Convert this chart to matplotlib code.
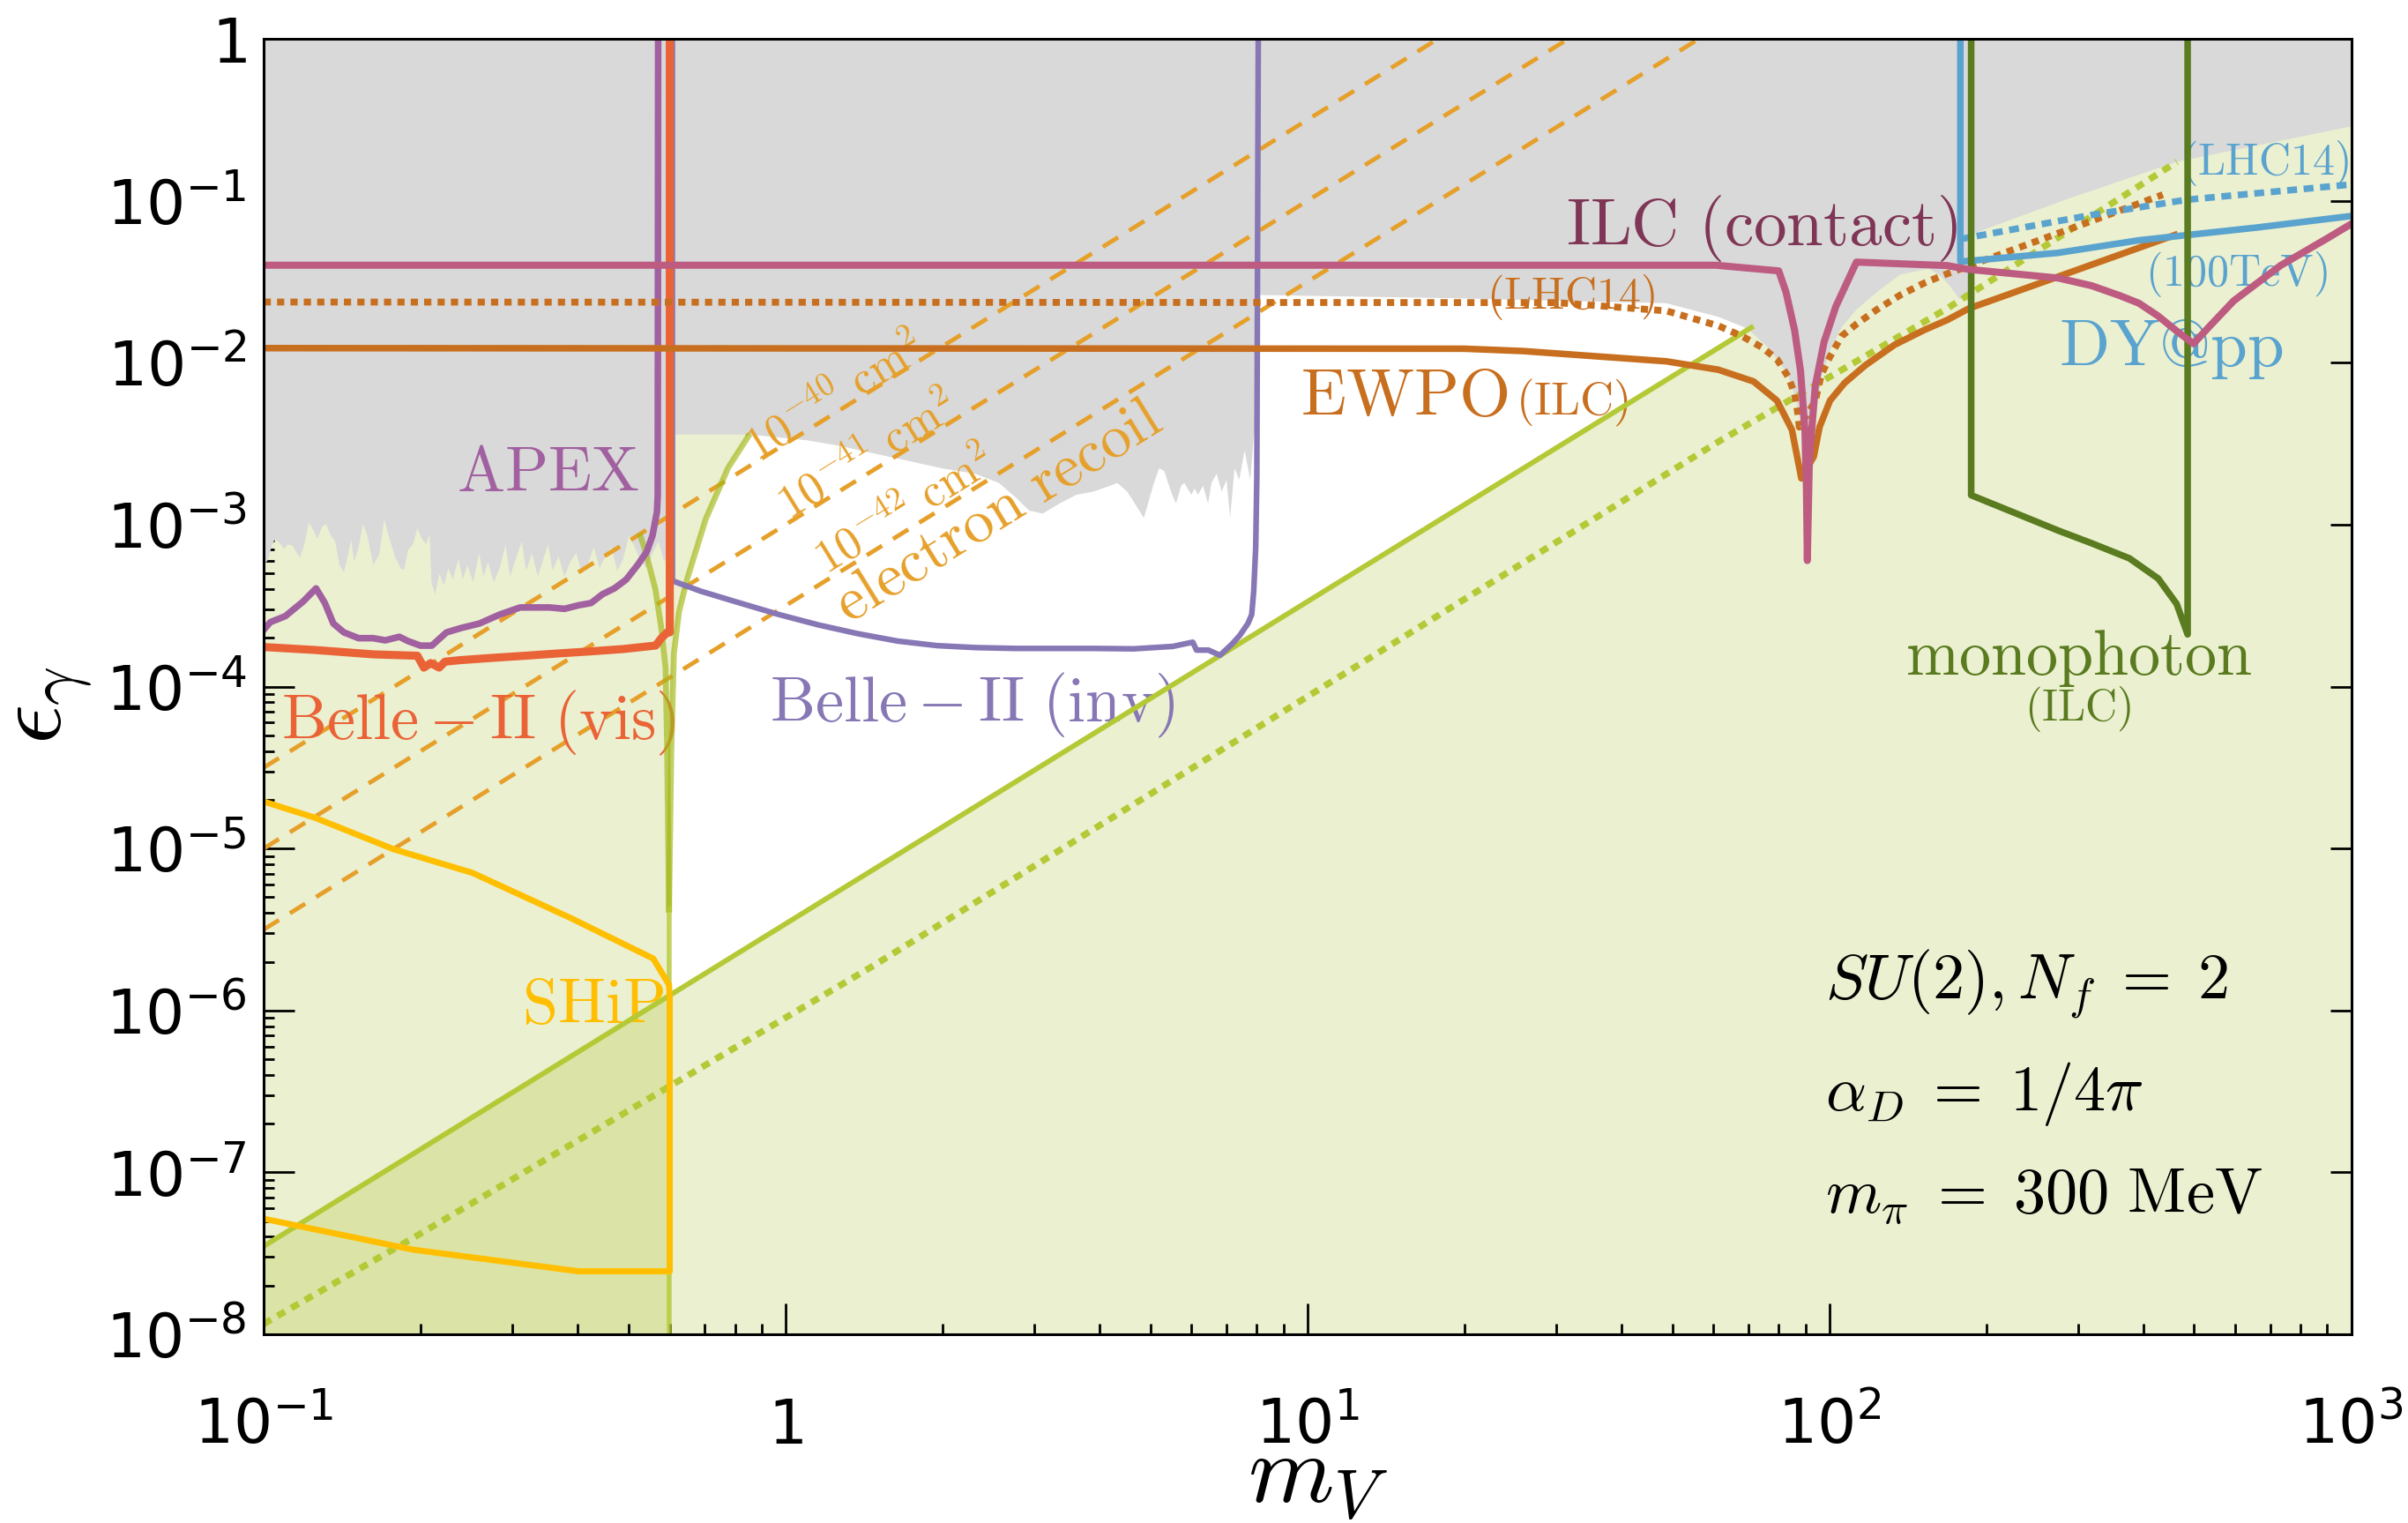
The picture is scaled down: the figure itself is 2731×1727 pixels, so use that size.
import numpy as np
import matplotlib.pyplot as plt
from matplotlib.ticker import LogLocator, NullFormatter

plt.rcParams['mathtext.fontset'] = 'dejavusans'

# ---------------- data: m_V [GeV] vs epsilon_gamma ----------------

# lower edge of the already-excluded (grey) region, split in three mass ranges
lowmass_edge_x = [0.1, 0.1017, 0.1037, 0.1051, 0.1072, 0.1093, 0.1114, 0.1136, 0.1158, 0.1173,
                  0.1197, 0.122, 0.1244, 0.1268, 0.1293, 0.1318, 0.1344, 0.1371, 0.1397, 0.1425,
                  0.1453, 0.1472, 0.1491, 0.152, 0.155, 0.158, 0.1622, 0.1665, 0.1702, 0.1742,
                  0.1788, 0.1835, 0.1859, 0.189, 0.1932, 0.197, 0.2009, 0.2048, 0.208, 0.2097,
                  0.213, 0.2172, 0.2215, 0.2259, 0.2303, 0.2362, 0.2409, 0.2456, 0.2521, 0.2587,
                  0.2638, 0.269, 0.276, 0.2833, 0.2908, 0.2965, 0.3042, 0.3122, 0.3184, 0.3267,
                  0.3353, 0.342, 0.351, 0.3578, 0.3673, 0.3769, 0.3868, 0.397, 0.4074, 0.418,
                  0.429, 0.4403, 0.4519, 0.4637, 0.476, 0.4884, 0.5012, 0.5144, 0.5279, 0.5418,
                  0.556, 0.5706, 0.5855, 0.6009]
lowmass_edge_y = [5.64e-4, 6.0e-4, 7.4e-4, 8.2e-4, 7.72e-4, 7.1e-4, 7.56e-4, 7.4e-4, 6.67e-4, 6.27e-4,
                  7.56e-4, 1.03e-3, 9.3e-4, 8.2e-4, 9.7e-4, 1.01e-3, 8.57e-4, 7.88e-4, 5.64e-4, 5.08e-4,
                  6.67e-4, 8.05e-4, 5.89e-4, 7.25e-4, 1.01e-3, 8.57e-4, 5.64e-4, 6.53e-4, 1.08e-3, 8.2e-4,
                  6.27e-4, 5.3e-4, 5.3e-4, 6.95e-4, 7.56e-4, 9.5e-4, 8.2e-4, 7.56e-4, 8.75e-4, 4.4e-4,
                  3.72e-4, 4.98e-4, 4.22e-4, 5.41e-4, 4.58e-4, 6.14e-4, 4.58e-4, 5.64e-4, 4.4e-4, 6.67e-4,
                  4.78e-4, 5.89e-4, 4.4e-4, 5.41e-4, 7.56e-4, 4.78e-4, 6.14e-4, 7.88e-4, 5.19e-4, 6.67e-4,
                  4.78e-4, 5.89e-4, 7.56e-4, 5.19e-4, 6.4e-4, 4.78e-4, 5.89e-4, 6.67e-4, 4.98e-4, 5.64e-4,
                  7.25e-4, 5.41e-4, 6.4e-4, 7.25e-4, 5.19e-4, 6.14e-4, 8.57e-4, 7.25e-4, 5.89e-4, 5.41e-4,
                  6.67e-4, 7.88e-4, 5.89e-4, 7.56e-4]
midmass_edge_x = [0.607, 0.609, 0.85, 1.098, 1.274, 1.478, 1.715, 1.99, 2.31, 2.564, 2.762, 2.931,
                  3.11, 3.35, 3.61, 3.89, 4.19, 4.32, 4.515, 4.86, 5.08, 5.20, 5.318, 5.477, 5.60,
                  5.728, 5.81, 5.99, 6.08, 6.17, 6.31, 6.45, 6.55, 6.70, 6.85, 7.0, 7.11, 7.25,
                  7.4, 7.58, 7.77, 7.96]
midmass_edge_y = [6.0e-4, 3.6e-3, 3.6e-3, 3.32e-3, 3.06e-3, 2.75e-3, 2.48e-3, 2.23e-3, 2.06e-3,
                  1.81e-3, 1.47e-3, 1.22e-3, 1.17e-3, 1.35e-3, 1.53e-3, 1.6e-3, 1.74e-3, 1.81e-3,
                  1.6e-3, 1.1e-3, 1.81e-3, 2.23e-3, 2.14e-3, 1.6e-3, 1.35e-3, 1.74e-3, 1.81e-3,
                  1.53e-3, 1.67e-3, 1.53e-3, 1.74e-3, 1.35e-3, 1.81e-3, 2.06e-3, 1.6e-3, 1.89e-3,
                  1.1e-3, 2.23e-3, 1.89e-3, 2.88e-3, 1.89e-3, 4.89e-3]
highmass_edge_x = [8.02, 19.2, 48.7, 61.3, 69.8, 76.4, 80.5, 83.6, 86.4, 88.7, 90.4, 92.3, 96.6,
                   100.3, 105.6, 112.7, 123.4, 136.9, 155, 163, 170, 177, 185, 185.5, 287, 463, 1000]
highmass_edge_y = [0.0262, 0.025, 0.0233, 0.0192, 0.0162, 0.0124, 0.00996, 0.00814, 0.00583,
                   0.00385, 0.00254, 0.00312, 0.00814, 0.0119, 0.0166, 0.0213, 0.0273, 0.0351,
                   0.0381, 0.0345, 0.030, 0.025, 0.024, 0.0614, 0.103, 0.174, 0.288]

# 2 m_pi threshold curve (two branches meeting on a stem)
res_left_x = [0.527, 0.538, 0.563, 0.578, 0.589, 0.593, 0.598]
res_left_y = [8.5e-4, 7e-4, 4e-4, 2.3e-4, 1.3e-4, 4.3e-5, 4.2e-6]
res_right_x = [0.598, 0.604, 0.611, 0.625, 0.649, 0.703, 0.776, 0.848]
res_right_y = [4.2e-6, 4e-5, 1.6e-4, 2.9e-4, 4.7e-4, 1.08e-3, 2.24e-3, 3.5e-3]
res_stem_x = [0.598, 0.598]
res_stem_y = [1e-8, 4.2e-6]

# relic / pion lines
relic_x = [0.1, 0.6, 70.9]
relic_y = [3.5e-8, 1.24e-6, 0.0165]
relic_dot_x = [0.1, 0.1935, 1.47, 61.3, 168.5, 463.6]
relic_dot_y = [1.16e-8, 3.94e-8, 1.88e-6, 3.25e-3, 0.0217, 0.174]

# direct detection (electron recoil) contours
recoil_x = [0.1, 100]
recoil_40 = [3.16e-5, 31.6]
recoil_41 = [1.0e-5, 10.0]
recoil_42 = [3.16e-6, 3.16]

apex_x = [0.1, 0.103, 0.110, 0.119, 0.126, 0.131, 0.136, 0.1425, 0.152, 0.162, 0.171, 0.182,
          0.189, 0.1997, 0.210, 0.224, 0.239, 0.259, 0.283, 0.310, 0.353, 0.377, 0.402, 0.424,
          0.446, 0.470, 0.495, 0.521, 0.542, 0.556, 0.567, 0.569, 0.57]
apex_y = [2.24e-4, 2.5e-4, 2.72e-4, 3.35e-4, 4.04e-4, 3.28e-4, 2.45e-4, 2.16e-4, 1.99e-4, 1.99e-4,
          1.93e-4, 2.03e-4, 1.91e-4, 1.79e-4, 1.79e-4, 2.16e-4, 2.3e-4, 2.45e-4, 2.78e-4, 3.08e-4,
          3.08e-4, 3.02e-4, 3.18e-4, 3.28e-4, 3.72e-4, 4.04e-4, 4.58e-4, 5.65e-4, 6.8e-4, 8.56e-4,
          1.2e-3, 1.53e-3, 1]

belle_vis_x = [0.1, 0.1252, 0.1622, 0.197, 0.2028, 0.2089, 0.2169, 0.2226, 0.2374, 0.2742, 0.3168,
               0.3659, 0.4226, 0.4882, 0.5639, 0.578, 0.5933, 0.6, 0.6]
belle_vis_y = [1.755e-4, 1.683e-4, 1.581e-4, 1.55e-4, 1.31e-4, 1.396e-4, 1.31e-4, 1.425e-4,
               1.455e-4, 1.504e-4, 1.55e-4, 1.601e-4, 1.649e-4, 1.705e-4, 1.792e-4, 1.99e-4,
               2.16e-4, 2.16e-4, 1]

belle_inv_x = [0.607, 0.607, 0.688, 0.818, 0.973, 1.158, 1.377, 1.639, 1.95, 2.32, 2.76, 3.28,
               3.90, 4.64, 5.52, 6.03, 6.13, 6.46, 6.80, 7.17, 7.42, 7.69, 7.82, 7.89, 7.96, 8.0, 8.05]
belle_inv_y = [1, 4.5e-4, 3.88e-4, 3.28e-4, 2.78e-4, 2.4e-4, 2.12e-4, 1.91e-4, 1.79e-4, 1.74e-4,
               1.72e-4, 1.72e-4, 1.72e-4, 1.71e-4, 1.77e-4, 1.88e-4, 1.68e-4, 1.68e-4, 1.56e-4,
               1.83e-4, 2.07e-4, 2.45e-4, 2.78e-4, 3.88e-4, 7.25e-4, 2e-3, 1]

ship_x = [0.1, 0.1253, 0.1774, 0.251, 0.3876, 0.5578, 0.598, 0.6, 0.6, 0.401, 0.1935, 0.1]
ship_y = [1.95e-5, 1.55e-5, 9.9e-6, 7.08e-6, 3.72e-6, 2.09e-6, 1.44e-6, 1.17e-6, 2.45e-8, 2.45e-8,
          3.33e-8, 5.17e-8]

ilc_x = [0.1, 60.6, 80.0, 82.6, 85.8, 88.1, 89.8, 90.4, 90.76, 91.6, 94.0, 97.7, 102.9, 112.7,
         168.0, 185.0, 275.0, 318.0, 361.0, 392.0, 426.0, 463.0, 498.6, 536.5, 595.5, 733.0,
         903.7, 1000.0]
ilc_y = [0.040, 0.040, 0.0369, 0.0273, 0.0159, 0.00885, 0.00385, 0.00167, 0.0006, 0.00254, 0.0072,
         0.0134, 0.0222, 0.0418, 0.0398, 0.0377, 0.0333, 0.0299, 0.0259, 0.0233, 0.0195, 0.0157,
         0.0131, 0.0169, 0.0241, 0.0399, 0.0591, 0.0719]

ewpo_x = [0.1, 20, 25.9, 48.7, 61.3, 71.6, 79.4, 84.8, 88.4, 93.4, 95.8, 100.3, 107, 117.2, 133.4,
          151.9, 168.5, 185, 459]
ewpo_y = [0.0123, 0.0122, 0.0118, 0.0102, 0.00905, 0.00766, 0.00583, 0.00385, 0.00193, 0.00264,
          0.00401, 0.00583, 0.0075, 0.00963, 0.0129, 0.0159, 0.0184, 0.0216, 0.0614]

ewpo_lhc_x = [0.1, 30, 48.7, 61.3, 68, 74.4, 79.4, 83.6, 85.8, 87.0, 87.6, 94.0, 96.6, 100.3,
              105.6, 112.7, 123.4, 136.9, 151.9, 164.2, 185, 287, 435.6]
ewpo_lhc_y = [0.0237, 0.0235, 0.0209, 0.0169, 0.0146, 0.0124, 0.0105, 0.0081, 0.0064, 0.0049,
              0.0040, 0.0058, 0.0085, 0.0109, 0.0146, 0.0173, 0.0213, 0.0262, 0.031, 0.0344,
              0.0396, 0.0664, 0.109]

dy_100_x = [178.3, 178.3, 185, 274.6, 392, 661, 1000]
dy_100_y = [1, 0.0422, 0.0425, 0.0477, 0.057, 0.0684, 0.0805]
dy_lhc_x = [178.3, 318, 483, 1000]
dy_lhc_y = [0.058, 0.0817, 0.1014, 0.126]

mono_x = [187, 187, 233, 274.6, 318, 376, 427, 463, 486, 486]
mono_y = [1, 1.52e-3, 1.14e-3, 9.19e-4, 7.68e-4, 6.19e-4, 4.64e-4, 3.24e-4, 2.1e-4, 1]

x_ticks = [0.1, 1, 10, 100, 1000]
x_ticklabels = [r'$10^{-1}$', r'$1$', r'$10^{1}$', r'$10^{2}$', r'$10^{3}$']
y_ticks = [1e-8, 1e-7, 1e-6, 1e-5, 1e-4, 1e-3, 1e-2, 1e-1, 1]
y_ticklabels = [r'$10^{-8}$', r'$10^{-7}$', r'$10^{-6}$', r'$10^{-5}$', r'$10^{-4}$',
                r'$10^{-3}$', r'$10^{-2}$', r'$10^{-1}$', r'$1$']

# ---------------- colours ----------------
C_GRAY = '#d9d9d9'
C_LIGHT = '#ebf0d0'
C_DARK = '#dbe4a6'
C_GREEN = '#b5c936'
C_STEM = '#a2b714'
C_APEX = '#a160a0'
C_BVIS = '#ea6337'
C_BINV = '#8777b5'
C_SHIP = '#ffbf00'
C_ILC = '#bd5b81'
C_ILC_TXT = '#7f3555'
C_EWPO = '#c86f1f'
C_RECOIL = '#e6a02a'
C_DY = '#5aa3cf'
C_MONO = '#5a7b1f'


def label(ax, x, y, s, color, size, ha='center', va='baseline', **kw):
    ax.text(x, y, s, color=color, fontsize=size, ha=ha, va=va,
            math_fontfamily='cm', **kw)


fig = plt.figure(figsize=(13.655, 8.635), dpi=200)
ax = fig.add_axes([0.1095, 0.1239, 0.8669, 0.8506])
ax.set_xscale('log')
ax.set_yscale('log')
ax.set_xlim(0.1, 1000)
ax.set_ylim(1e-8, 1)
ax.set_facecolor(C_LIGHT)

# shaded regions
ax.fill([0.1, 0.1, relic_x[1], relic_x[1]], [1e-8, relic_y[0], relic_y[1], 1e-8],
        color=C_DARK, lw=0, zorder=1)
white_x = [relic_x[1]] + res_right_x + [res_right_x[-1], relic_x[2], relic_x[2]]
white_y = [relic_y[1]] + res_right_y + [0.05, 0.05, relic_y[2]]
ax.fill(white_x, white_y, color='white', lw=0, zorder=1.5)
gray_x = lowmass_edge_x + midmass_edge_x + highmass_edge_x + [1000, 0.1]
gray_y = lowmass_edge_y + midmass_edge_y + highmass_edge_y + [1, 1]
ax.fill(gray_x, gray_y, color=C_GRAY, lw=0, zorder=2)

# electron recoil cross-section contours
for yy in (recoil_40, recoil_41, recoil_42):
    ax.plot(recoil_x, yy, color=C_RECOIL, lw=1.75, ls=(0, (4.2, 3.0)), zorder=3)

# relic lines and the 2 m_pi feature
ax.plot(relic_x, relic_y, color=C_GREEN, lw=2.1, zorder=4)
ax.plot(relic_dot_x, relic_dot_y, color=C_GREEN, lw=2.7, ls=(0, (1.3, 1.1)),
        dash_capstyle='butt', zorder=4)
ax.plot(res_left_x, res_left_y, color=C_STEM, lw=2.4, alpha=0.65, zorder=4)
ax.plot(res_right_x, res_right_y, color=C_STEM, lw=2.4, alpha=0.65, zorder=4)
ax.plot(res_stem_x, res_stem_y, color=C_GREEN, lw=2.0, alpha=0.8, zorder=4)

ax.plot(ship_x, ship_y, color=C_SHIP, lw=2.5, zorder=5)
ax.plot(apex_x, apex_y, color=C_APEX, lw=2.7, zorder=5)
ax.plot(belle_inv_x, belle_inv_y, color=C_BINV, lw=2.3, zorder=5)
ax.plot(belle_vis_x, belle_vis_y, color=C_BVIS, lw=3.3, zorder=5.5)

ax.plot(ewpo_lhc_x, ewpo_lhc_y, color=C_EWPO, lw=2.8, ls=(0, (1.05, 0.9)),
        dash_capstyle='butt', zorder=6)
ax.plot(ewpo_x, ewpo_y, color=C_EWPO, lw=2.7, zorder=6)
ax.plot(ilc_x, ilc_y, color=C_ILC, lw=2.9, zorder=6.5)
ax.plot(dy_lhc_x, dy_lhc_y, color=C_DY, lw=2.7, ls=(0, (1.5, 1.0)),
        dash_capstyle='butt', zorder=6)
ax.plot(dy_100_x, dy_100_y, color=C_DY, lw=2.7, zorder=6)
ax.plot(mono_x, mono_y, color=C_MONO, lw=2.7, zorder=6)

# labels
label(ax, 0.35, 1.6e-3, r'$\mathrm{APEX}$', C_APEX, 26)
label(ax, 0.2577, 4.74e-5, r'$\mathrm{Belle-II\ (vis)}$', C_BVIS, 26)
label(ax, 2.28, 6.1e-5, r'$\mathrm{Belle-II\ (inv)}$', C_BINV, 26)
label(ax, 0.428, 8.35e-7, r'$\mathrm{SHiP}$', C_SHIP, 26)
label(ax, 74.3, 0.0532, r'$\mathrm{ILC\ (contact)}$', C_ILC_TXT, 27)
label(ax, 31.9, 0.0215, r'$\mathrm{(LHC14)}$', C_EWPO, 18)
label(ax, 9.7, 4.75e-3, r'$\mathrm{EWPO}$', C_EWPO, 27, ha='left')
label(ax, 25.1, 4.75e-3, r'$\mathrm{(ILC)}$', C_EWPO, 19, ha='left')
label(ax, 451.5, 9.6e-3, r'$\mathrm{DY@pp}$', C_DY, 27)
label(ax, 602, 0.0299, r'$\mathrm{(100TeV)}$', C_DY, 18)
label(ax, 682, 0.145, r'$\mathrm{(LHC14)}$', C_DY, 18)
label(ax, 300.8, 1.19e-4, r'$\mathrm{monophoton}$', C_MONO, 26)
label(ax, 300, 6.2e-5, r'$\mathrm{(ILC)}$', C_MONO, 18)

ang = 31.7
label(ax, 1.245, 6.08e-3, r'$10^{-40}\ \mathrm{cm}^2$', C_RECOIL, 19, va='center',
      rotation=ang, rotation_mode='anchor')
label(ax, 1.435, 2.64e-3, r'$10^{-41}\ \mathrm{cm}^2$', C_RECOIL, 19, va='center',
      rotation=ang, rotation_mode='anchor')
label(ax, 1.69, 1.22e-3, r'$10^{-42}\ \mathrm{cm}^2$', C_RECOIL, 19, va='center',
      rotation=ang, rotation_mode='anchor')
label(ax, 2.55, 1.2e-3, r'$\mathrm{electron\ recoil}$', C_RECOIL, 25, va='center',
      rotation=ang, rotation_mode='anchor')

label(ax, 98.3, 1.18e-6, r'$SU(2), N_f\;=\;2$', 'black', 26, ha='left')
label(ax, 98.3, 2.41e-7, r'$\alpha_D\;=\;1/4\pi$', 'black', 26, ha='left')
label(ax, 98.3, 5.6e-8, r'$m_\pi\;=\;300\ \mathrm{MeV}$', 'black', 26, ha='left')

fig.text(0.5472, 0.0140, r'$m_V$', fontsize=40, ha='center', va='baseline',
         math_fontfamily='cm')
fig.text(70 / 2731, 0.5368, r'$\epsilon_\gamma$', fontsize=40, rotation=90,
         rotation_mode='anchor', ha='center', va='baseline', math_fontfamily='cm')

# axes, ticks
ax.set_xticks(x_ticks, x_ticklabels)
ax.set_yticks(y_ticks, y_ticklabels)
ax.xaxis.set_minor_locator(LogLocator(base=10, subs=np.arange(2, 10), numticks=100))
ax.yaxis.set_minor_locator(LogLocator(base=10, subs=np.arange(2, 10), numticks=100))
ax.xaxis.set_minor_formatter(NullFormatter())
ax.yaxis.set_minor_formatter(NullFormatter())
ax.tick_params(which='both', direction='in', top=True, right=True, width=1.0)
ax.tick_params(which='major', length=12.6, labelsize=25)
ax.tick_params(which='minor', length=4.3, right=False)
ax.tick_params(axis='y', which='major', pad=7)
ax.tick_params(axis='x', which='major', pad=44.5)
plt.setp(ax.get_xticklabels(), va='baseline')
for t in ax.xaxis.get_major_ticks() + ax.yaxis.get_major_ticks():
    t.tick2line.set_markersize(8.6)
for sp in ax.spines.values():
    sp.set_linewidth(1.1)
    sp.set_zorder(10)

fig.savefig('out.png', dpi=200)
